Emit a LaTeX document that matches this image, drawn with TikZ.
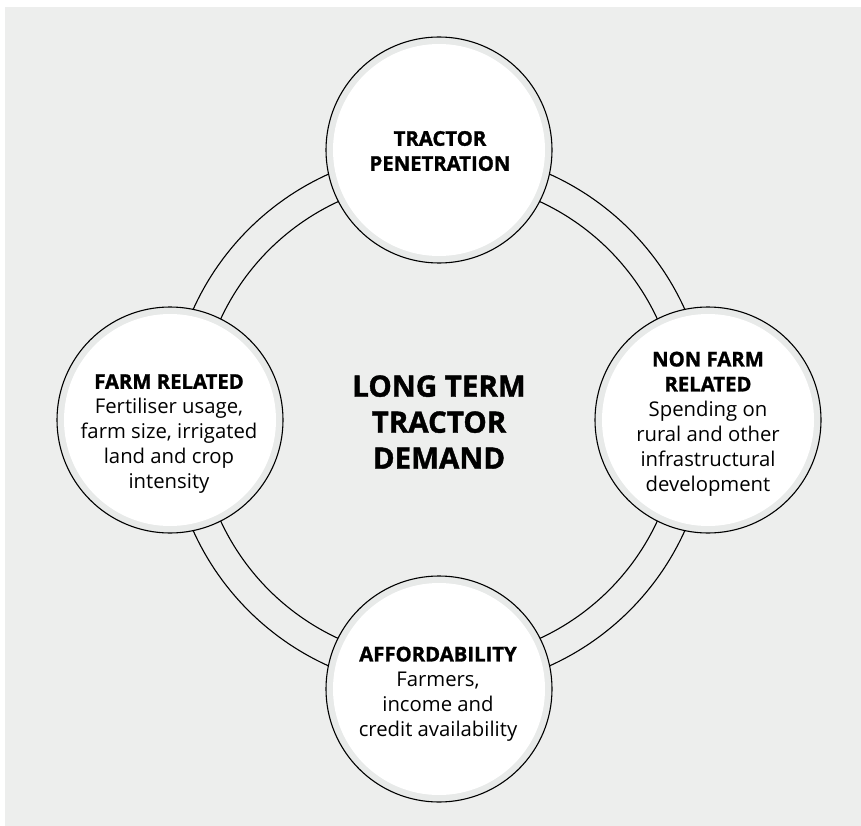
\documentclass[tikz,border=0pt]{standalone}
\usepackage{fontspec}
\setmainfont{Open Sans}[BoldFeatures={FakeBold=1.3}]
\definecolor{panel}{HTML}{EDEEED}
\definecolor{band}{HTML}{E8EAE9}
\begin{document}
\begin{tikzpicture}[x=1pt,y=-1pt,
  bubble/.style={circle, draw=black, line width=1.1pt, fill=band,
    minimum size=226pt, inner sep=0pt,
    path picture={\fill[white] (path picture bounding box.center) circle[radius=106pt];}},
  label/.style={align=center, inner sep=0pt, font=\fontsize{20.3}{25}\selectfont},
  ring/.style={draw=black, line width=1.1pt}]
\useasboundingbox (0,0) rectangle (861,826);
\fill[panel] (5,7) rectangle (861,826);

% hub and the double ring joining the four factors
\coordinate (hub) at (439,420);
\draw[ring] (hub) circle[radius=269.5pt];
\draw[ring] (hub) circle[radius=240.5pt];

% the four factor circles
\node[bubble] (top)    at (439,150) {};
\node[bubble] (left)   at (170,420) {};
\node[bubble] (right)  at (708,420) {};
\node[bubble] (bottom) at (439,689) {};

% texts
\node[label] (toptext) at (440,151) {\textbf{TRACTOR}\\\textbf{PENETRATION}};
\node[label] (lefttext) at (169,434) {\textbf{FARM RELATED}\\Fertiliser usage,\\farm size, irrigated\\land and crop\\intensity};
\node[label] (righttext) at (708,424) {\textbf{NON FARM}\\\textbf{RELATED}\\Spending on\\rural and other\\infrastructural\\development};
\node[label] (bottomtext) at (438,694) {\textbf{AFFORDABILITY}\\Farmers,\\income and\\credit availability};
\node[align=center, inner sep=0pt, font=\fontsize{29.5}{36}\selectfont\bfseries] (hubtext) at (439,422) {LONG TERM\\TRACTOR\\DEMAND};
\end{tikzpicture}
\end{document}
